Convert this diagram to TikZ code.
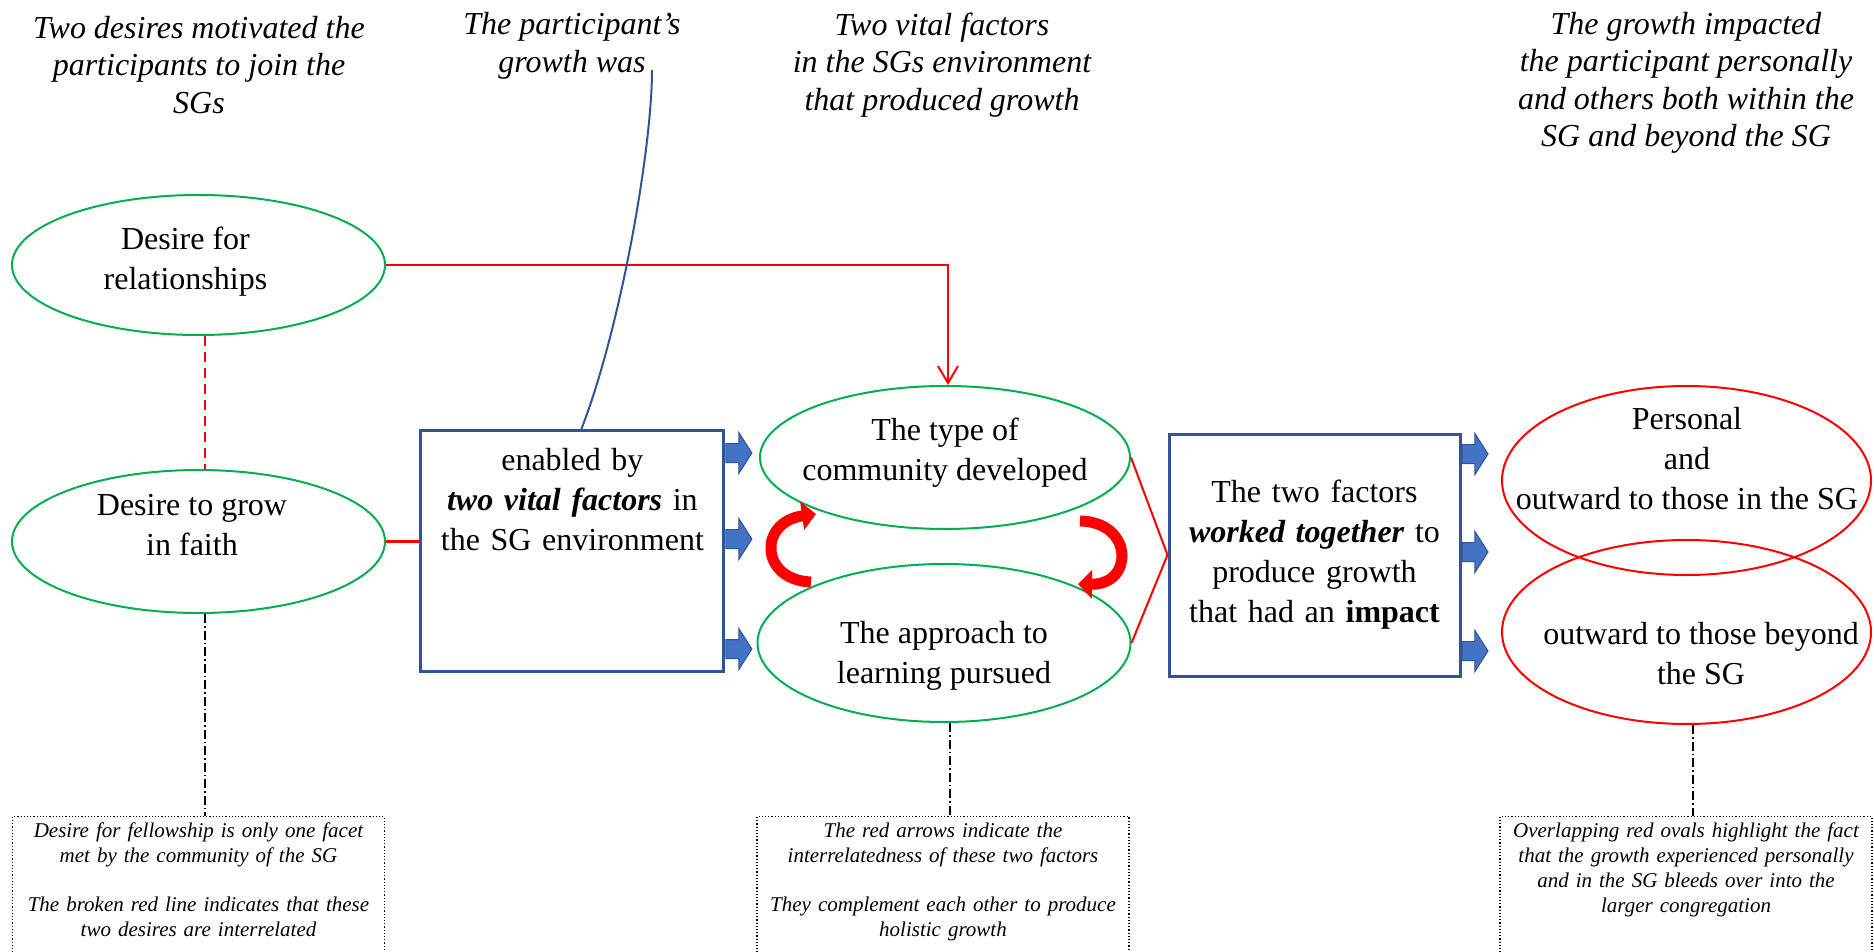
\documentclass[tikz,border=0pt]{standalone}
\usepackage{fontspec}
\setmainfont{Liberation Serif}
\usetikzlibrary{shapes.geometric,shapes.arrows,arrows.meta,calc,positioning}

\definecolor{ovalgreen}{HTML}{00B050}
\definecolor{boxblue}{HTML}{2F5597}
\definecolor{arrowblue}{HTML}{4472C4}

\tikzset{
    oval/.style={draw=ovalgreen, line width=2pt, ellipse, inner sep=0pt},
    redoval/.style={draw=red, line width=2pt, ellipse, inner sep=0pt},
    ovaltxt/.style={align=center, font=\fontsize{32}{40}\selectfont},
    bluebox/.style={draw=boxblue, line width=3pt, fill=white, align=center, inner sep=0pt, font=\fontsize{32}{40}\selectfont},
    header/.style={align=center, font=\fontsize{32}{37.5}\selectfont\itshape},
    note/.style={draw, dotted, line width=1.2pt, anchor=north, text width=360pt, align=center, inner xsep=6pt, inner ysep=6pt, text depth=125pt, font=\fontsize{21}{25}\selectfont\itshape},
    redline/.style={draw=red, line width=2pt},
    guide/.style={line width=1.2pt, dash pattern=on 9pt off 3pt on 1.5pt off 3pt},
    blockarr/.style={single arrow, draw=boxblue, fill=arrowblue, line width=1pt, anchor=tail, inner xsep=0pt, inner ysep=9pt, minimum height=26pt, single arrow head extend=11pt, single arrow tip angle=115},
    curvarr/.style={draw=red, line width=11pt, -{Triangle[length=14pt,width=28pt]}}
}

\begin{document}
\begin{tikzpicture}[x=1pt, y=-1pt]
    \useasboundingbox (0,0) rectangle (1874,952);

    % Titres
    \node[header] (hdesire) at (199,65) {Two desires motivated the\\participants to join the\\SGs};
    \node[header] (hgrowth) at (572,46) {The participant’s\\growth was};
    \node[header] (hfactor) at (942,65) {Two vital factors\\in the SGs environment\\that produced growth};
    \node[header] (himpact) at (1686,83) {The growth impacted\\the participant personally\\and others both within the\\SG and beyond the SG};

    % Desirs
    \node[oval, minimum width=373pt, minimum height=140pt] (rel) at (198.5,265) {};
    \node[ovaltxt] (reltxt) at (185.5,262) {Desire for\\relationships};
    \node[oval, minimum width=373pt, minimum height=143pt] (grow) at (198.5,541.5) {};
    \node[ovaltxt] (growtxt) at (192,525) {Desire to grow\\in faith};

    % Facteurs
    \node[bluebox, minimum width=303pt, minimum height=241pt, text width=300pt, text depth=184pt] (enab) at (572.4,551) {enabled by\\\textbf{\textit{two vital factors}} in\\the SG environment};
    \node[oval, minimum width=370pt, minimum height=143pt] (type) at (945,457.5) {};
    \node[ovaltxt] (typetxt) at (945,453) {The type of\\community developed};
    \node[oval, minimum width=373pt, minimum height=158pt] (learn) at (944,643) {};
    \node[ovaltxt] (learntxt) at (944,656) {The approach to\\learning pursued};

    % Impact
    \node[bluebox, minimum width=291pt, minimum height=242pt, text width=288pt] (impact) at (1314.5,555) {The two factors\\\textbf{\textit{worked together}} to\\produce growth\\that had an \textbf{impact}};
    \node[redoval, minimum width=369pt, minimum height=189pt] (pers) at (1686.5,480.5) {};
    \node[ovaltxt] (perstxt) at (1687,459) {Personal\\and\\outward to those in the SG};
    \node[redoval, minimum width=369pt, minimum height=184pt] (beyond) at (1686.5,632) {};
    \node[ovaltxt] (beyondtxt) at (1701,654) {outward to those beyond\\the SG};

    % Fleches bleues
    \node[blockarr] (ea1) at (enab.east |- 0,453) {};
    \node[blockarr] (ea2) at (enab.east |- 0,539) {};
    \node[blockarr] (ea3) at (enab.east |- 0,649) {};
    \node[blockarr] (ia1) at (impact.east |- 0,454) {};
    \node[blockarr] (ia2) at (impact.east |- 0,552) {};
    \node[blockarr] (ia3) at (impact.east |- 0,651) {};

    % Notes
    \node[note] (fellow) at (198.5,816) {Desire for fellowship is only one facet\\met by the community of the SG\\[24pt]The broken red line indicates that these\\two desires are interrelated};
    \node[note] (holist) at (943,816) {The red arrows indicate the\\interrelatedness of these two factors\\[24pt]They complement each other to produce\\holistic growth};
    \node[note] (overlap) at (1686,816) {Overlapping red ovals highlight the fact\\that the growth experienced personally\\and in the SG bleeds over into the\\larger congregation};

    % Relations
    \draw[redline, -{Straight Barb[length=17pt,width=20pt]}] (rel.east) -| ($(type.north)+(3,0)$);
    \draw[redline, dash pattern=on 10pt off 6pt] ($(rel.south)+(6.5,0)$) -- ($(grow.north)+(6.5,0)$);
    \draw[redline, line width=3pt] (grow.east) -- (grow.east -| enab.west);
    \draw[redline] (type.east) -- (impact.west) -- (learn.east);
    \coordinate (gwend) at (652,70);
    \draw[boxblue, line width=2pt] (gwend) .. controls (652,150) and (620,330) .. ($(enab.north)+(9,0)$);

    % Fleches rouges courbes
    \coordinate (la1) at (811,582);
    \coordinate (la2) at (816,514);
    \draw[curvarr] (la1) .. controls (760,580) and (758,522) .. (la2);
    \coordinate (ra1) at (1080,521);
    \coordinate (ra2) at (1078,584);
    \draw[curvarr] (ra1) .. controls (1134,522) and (1134,585) .. (ra2);

    % Lignes vers les notes
    \draw[guide] ($(grow.south)+(6.5,0)$) -- ($(fellow.north)+(6.5,0)$);
    \draw[guide] ($(learn.south)+(6,0)$) -- ($(holist.north)+(7,0)$);
    \draw[guide] ($(beyond.south)+(6.5,0)$) -- ($(overlap.north)+(7,0)$);
\end{tikzpicture}
\end{document}
